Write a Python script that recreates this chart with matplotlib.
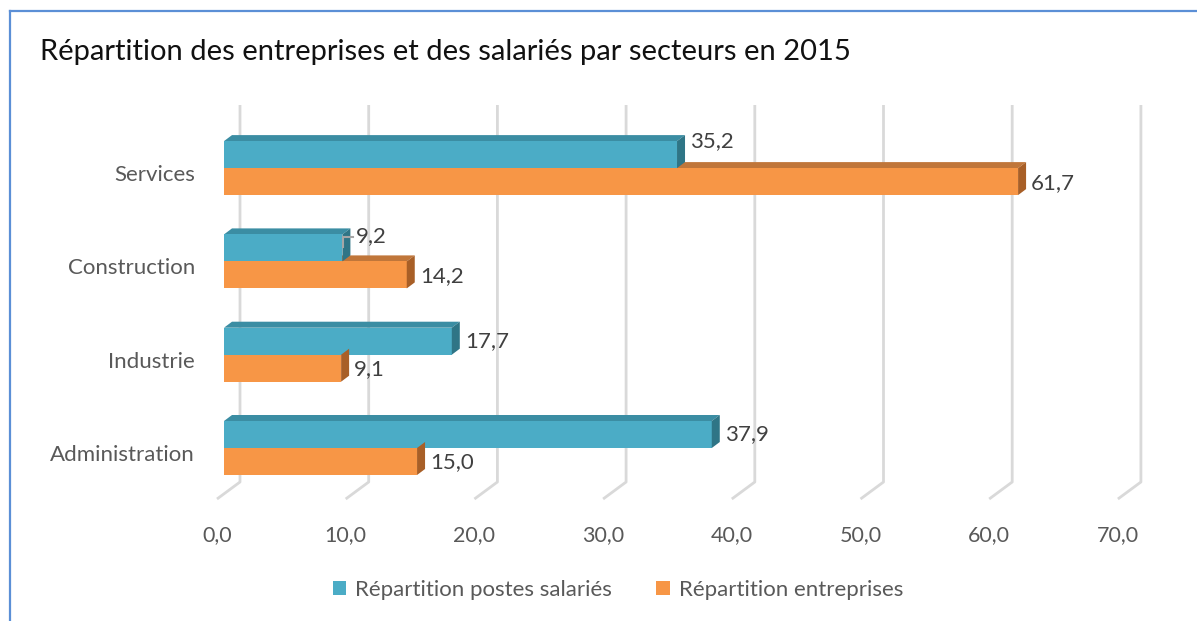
import numpy as np
import matplotlib.pyplot as plt
from matplotlib.patches import Polygon
from matplotlib.lines import Line2D

plt.rcParams['font.family'] = ['Lato', 'DejaVu Sans']

categories = ["Administration", "Industrie", "Construction", "Services"]
postes_salaries = [37.9, 17.7, 9.2, 35.2]
entreprises = [15.0, 9.1, 14.2, 61.7]
ticks = [0, 10, 20, 30, 40, 50, 60, 70]
title = "Répartition des entreprises et des salariés par secteurs en 2015"
series_names = ["Répartition postes salariés", "Répartition entreprises"]

W, H = 1197, 621
teal, teal_top, teal_side = "#4bacc6", "#3b8da3", "#2f7586"
orange, orange_top, orange_side = "#f79646", "#c0763a", "#a85f27"

# pixel geometry of the chart (x=0 at px 224, 12.87 px per unit; rows 93.3 px apart)
x0_px, sx = 224, 12.87
y0_px, sy = 448, 93.3

fig = plt.figure(figsize=(W / 100, H / 100), dpi=100)
ax = fig.add_axes([0, 0, 1, 1])
ax.set_xlim(-x0_px / sx, (W - x0_px) / sx)
ax.set_ylim((y0_px - H) / sy, y0_px / sy)
ax.axis("off")


def px(dx):
    return dx / sx


def py(dy):
    return dy / sy


def row(y_pixel):
    return (y0_px - y_pixel) / sy


# gridlines: back vertical part + diagonal floor
for t in ticks:
    xb = t + px(16)
    xf = t - px(7)
    ax.plot([xb, xb, xf], [row(105), row(482), row(499)], color="#d9d9d9",
            lw=2, solid_capstyle="butt", zorder=1)
    ax.text(xf, row(535), f"{t:.1f}".replace(".", ","), ha="center", va="center",
            fontsize=15.5, color="#595959")

h = py(27)
ddx, ddy = px(8), py(6)
pos = np.arange(len(categories))


def faces(y_bottom, v, top_color, side_color):
    top = y_bottom + h
    ax.add_patch(Polygon([(0, top), (ddx, top + ddy), (v + ddx, top + ddy), (v, top)],
                         closed=True, fc=top_color, ec="none", zorder=2))
    ax.add_patch(Polygon([(v, top), (v + ddx, top + ddy), (v + ddx, y_bottom + ddy), (v, y_bottom)],
                         closed=True, fc=side_color, ec="none", zorder=4))


for i in pos:
    faces(i - h, entreprises[i], orange_top, orange_side)
b2 = ax.barh(pos - h / 2, entreprises, height=h, color=orange, zorder=3)
b1 = ax.barh(pos + h / 2, postes_salaries, height=h, color=teal, zorder=3)
for i in pos:
    faces(i, postes_salaries[i], teal_top, teal_side)

# data labels (some lifted up, like in the original)
lift_teal = [0, 0, 12, 14]
for i in pos:
    v = postes_salaries[i]
    ax.text(v + px(13), i + h / 2 + py(lift_teal[i]), f"{v:.1f}".replace(".", ","),
            ha="left", va="center", fontsize=16, color="#404040", zorder=5)
    v = entreprises[i]
    ax.text(v + px(13), i - h / 2 + py(-1), f"{v:.1f}".replace(".", ","),
            ha="left", va="center", fontsize=16, color="#404040", zorder=5)
# leader line for Construction
c = categories.index("Construction")
v = postes_salaries[c]
ax.plot([v + px(1), v + px(1), v + px(11)],
        [row(247), row(237), row(237)], color="#a6a6a6", lw=1.5, zorder=5)

for i, name in enumerate(categories):
    ax.text(px(195 - x0_px), i - py(7), name, ha="right", va="center",
            fontsize=16, color="#595959")

fig.text(40 / W, 1 - 52 / H, title, ha="left", va="center", fontsize=21, color="#111111")

fig.legend([b1, b2], series_names, loc="center", bbox_to_anchor=(618 / W, 1 - 590 / H),
           ncol=2, frameon=False, fontsize=16, handlelength=0.6, handleheight=0.6,
           handletextpad=0.4, columnspacing=2.0, labelcolor="#595959")

# frame border (left and top)
fig.add_artist(Line2D([9.5 / W, 9.5 / W], [0, 1 - 10.5 / H], color="#5b8fd6", lw=1.6))
fig.add_artist(Line2D([9.5 / W, 1], [1 - 10.5 / H, 1 - 10.5 / H], color="#5b8fd6", lw=1.6))

fig.savefig("out.png", dpi=100)
